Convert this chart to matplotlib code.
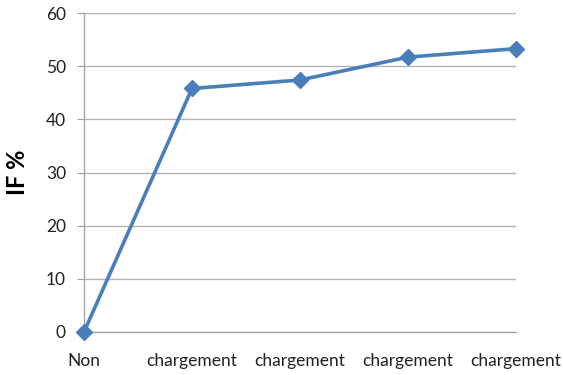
import matplotlib
matplotlib.use("Agg")
import matplotlib.pyplot as plt

categories = ["Non", "chargement", "chargement", "chargement", "chargement"]
if_values = [0.0, 45.8, 47.4, 51.7, 53.3]
y_ticks = [0, 10, 20, 30, 40, 50, 60]

plt.rcParams['font.family'] = ['Lato', 'DejaVu Sans']

fig = plt.figure(figsize=(5.63, 3.75), dpi=100)
ax = fig.add_axes([84/563, 43/375, 432/563, 319/375])

x = list(range(len(categories)))
ax.plot(x, if_values, color="#4a7ebb", lw=2.6, marker="D", markersize=8.5,
        markerfacecolor="#4a7ebb", markeredgecolor="#4a7ebb", clip_on=False, zorder=3)

ax.set_xlim(0, len(categories) - 1)
ax.set_ylim(0, 60)
ax.set_yticks(y_ticks)
ax.yaxis.grid(True, color="#b3b3b3", lw=1)
ax.set_axisbelow(True)

ax.set_xticks(x)
ax.set_xticklabels(categories, fontsize=12.5, color="#222222")
ax.tick_params(axis="x", length=0, pad=15)
ax.tick_params(axis="y", length=5, color="#999999", labelsize=12.5, labelcolor="#222222", pad=8)

for s in ["top", "right"]:
    ax.spines[s].set_visible(False)
for s in ["left", "bottom"]:
    ax.spines[s].set_color("#a6a6a6")
    ax.spines[s].set_linewidth(1)

ax.set_ylabel("IF %", fontsize=17, fontweight="bold", labelpad=12)

fig.savefig("out.png", dpi=100)
